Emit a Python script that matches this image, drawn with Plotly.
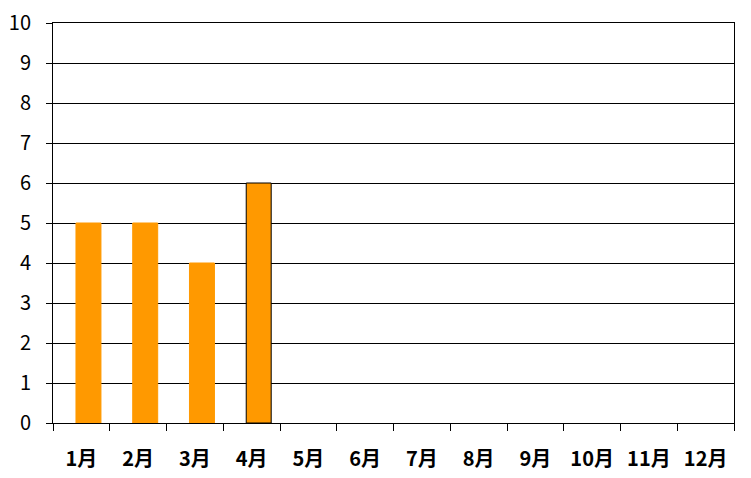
import plotly.graph_objects as go

months = ['1月', '2月', '3月', '4月', '5月', '6月', '7月', '8月', '9月', '10月', '11月', '12月']
counts = [5, 5, 4, 6, None, None, None, None, None, None, None, None]
edge_colors = ['#FF9900', '#FF9900', '#FF9900', '#000000'] + ['#FF9900'] * 8

# bars sit a little right of the category centre, as in the original
fig = go.Figure(go.Bar(
    x=months,
    y=counts,
    width=0.44,
    offset=-0.095,
    marker=dict(color='#FF9900', line=dict(color=edge_colors, width=1)),
))

# page body adds an 8px offset, so margins are shifted to compensate
fig.update_layout(
    width=751, height=478,
    margin=dict(l=45, r=25, t=15, b=63),
    plot_bgcolor='white', paper_bgcolor='white',
    showlegend=False,
    font=dict(family='Noto Sans CJK JP', size=20, color='black'),
)
fig.update_xaxes(
    type='category', automargin=False,
    showline=True, linecolor='black', linewidth=1, mirror=True,
    ticks='outside', tickson='boundaries', ticklen=7, tickcolor='black',
    ticklabelstandoff=18,
    tickfont=dict(family='Noto Sans CJK JP', size=20, weight='bold'),
    showgrid=False,
)
fig.update_yaxes(
    range=[0, 10], dtick=1, automargin=False,
    showline=True, linecolor='black', linewidth=1, mirror=True,
    ticks='outside', ticklen=6, tickcolor='black',
    tickfont=dict(family='Noto Sans CJK JP', size=20),
    ticklabeloverflow='allow',
    showgrid=True, gridcolor='black', gridwidth=1,
    zeroline=False,
    ticklabelstandoff=11,
)

fig.write_html("out.html")
